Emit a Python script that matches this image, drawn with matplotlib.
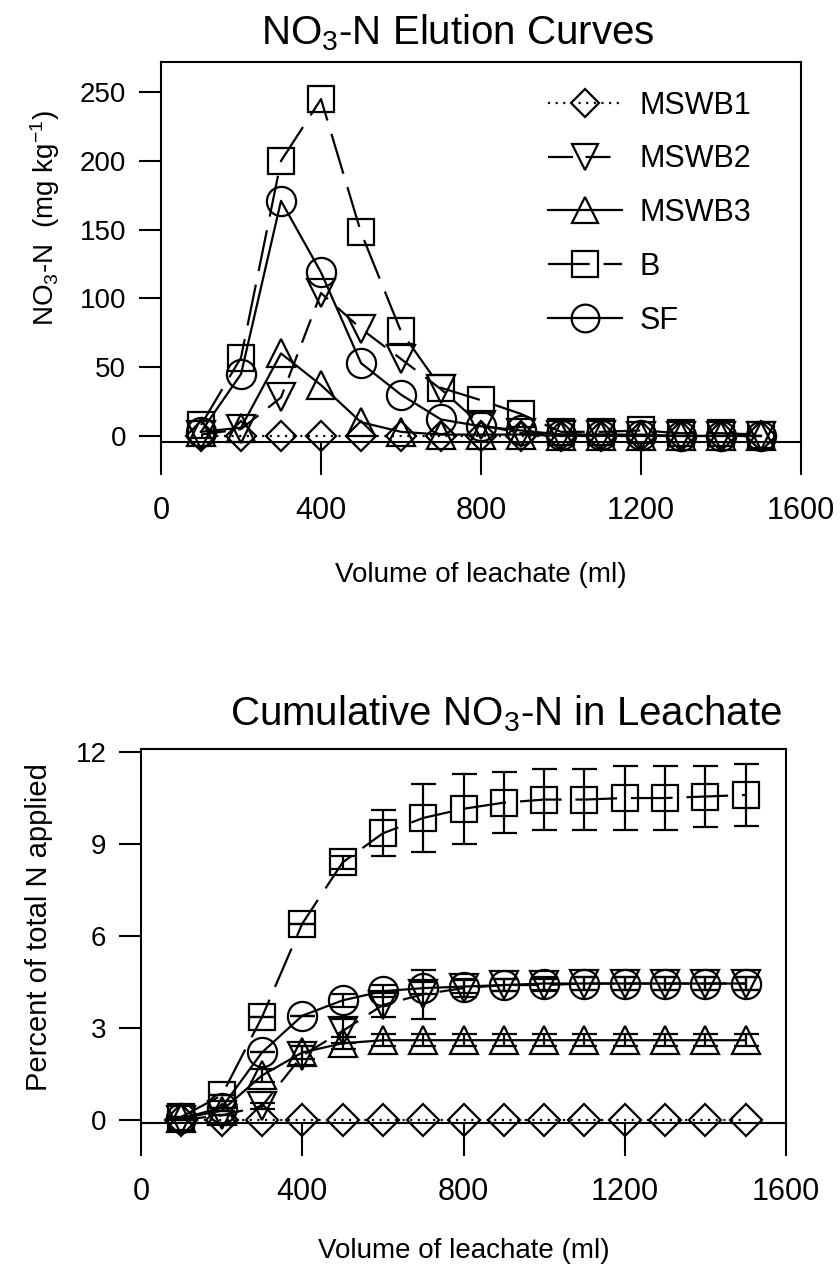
import numpy as np
import matplotlib
matplotlib.use("Agg")
import matplotlib.pyplot as plt

plt.rcParams['font.family'] = ['Liberation Sans', 'DejaVu Sans']
plt.rcParams['mathtext.default'] = 'regular'
plt.rcParams['lines.scale_dashes'] = False

# leachate volume (ml)
volume = [100, 200, 300, 400, 500, 600, 700, 800, 900, 1000, 1100, 1200, 1300, 1400, 1500]

# NO3-N elution (mg/kg)
conc_mswb1 = [0, 0, 0, 0, 0, 0, 0, 0, 0, 0, 0, 0, 0, 0, 0]
conc_mswb2 = [1, 5, 28, 104, 78, 56, 34, 8, 2, 1, 1, 0, 0, 0, 0]
conc_mswb3 = [3, 6, 60, 37, 10, 3, 1, 1, 1, 0, 0, 0, 0, 0, 0]
conc_b = [8, 57, 200, 245, 148, 76, 35, 26, 16, 3, 3, 4, 2, 2, 1]
conc_sf = [3, 45, 171, 119, 53, 30, 12, 7, 4, 1, 1, 1, 0, 0, 0]

# cumulative NO3-N (% of total N applied)
cum_mswb1 = [0, 0, 0, 0, 0, 0, 0, 0, 0, 0, 0, 0, 0, 0, 0]
cum_mswb2 = [0.0, 0.15, 0.45, 2.1, 2.9, 3.75, 4.1, 4.3, 4.4, 4.4, 4.45, 4.45, 4.45, 4.45, 4.45]
cum_mswb3 = [0.05, 0.3, 1.45, 2.2, 2.5, 2.6, 2.6, 2.6, 2.6, 2.6, 2.6, 2.6, 2.6, 2.6, 2.6]
cum_b = [0.1, 0.8, 3.35, 6.4, 8.4, 9.35, 9.85, 10.15, 10.35, 10.45, 10.45, 10.5, 10.5, 10.55, 10.6]
cum_sf = [0.05, 0.4, 2.2, 3.4, 3.9, 4.2, 4.3, 4.35, 4.4, 4.45, 4.45, 4.45, 4.45, 4.45, 4.45]

err_mswb2 = [0, 0, 0.1, 0.3, 0.4, 0.4, 0.8, 0.3, 0.2, 0.2, 0.2, 0.2, 0.2, 0.2, 0.2]
err_mswb3 = [0, 0, 0.2, 0.2, 0.2, 0.2, 0.2, 0.2, 0.2, 0.2, 0.2, 0.2, 0.2, 0.2, 0.2]
err_b = [0, 0, 0, 0, 0.2, 0.75, 1.1, 1.15, 1.0, 1.0, 1.0, 1.05, 1.05, 1.0, 1.0]
err_sf = [0, 0, 0, 0, 0.2, 0.2, 0.2, 0.2, 0.2, 0.2, 0.2, 0.2, 0.2, 0.2, 0.2]

labels = ['MSWB1', 'MSWB2', 'MSWB3', 'B', 'SF']
markers = ['D', 'v', '^', 's', 'o']
styles = [(0, (1.5, 4)), (0, (18, 9)), '-', (0, (30, 10)), '-']
top_sizes = [15, 20, 20, 19, 21]
bot_sizes = [16, 20, 20, 19, 21]

fig = plt.figure(figsize=(8.4, 12.68), dpi=100)
W, H = 840.0, 1268.0


def style_axes(ax):
    for side in ['top', 'right', 'left', 'bottom']:
        ax.spines[side].set_linewidth(1.5)
    ax.tick_params(axis='y', direction='out', length=16, width=1.5, pad=9, labelsize=20)
    ax.tick_params(axis='x', direction='out', length=24, width=1.5, pad=15, labelsize=22)


# ---- top: elution curves
ax1 = fig.add_axes([161 / W, 1 - 442 / H, 640 / W, 380 / H])
top_series = [conc_mswb1, conc_mswb2, conc_mswb3, conc_b, conc_sf]
for vals, lab, m, ls, ms in zip(top_series, labels, markers, styles, top_sizes):
    ax1.plot(volume, vals, linestyle=ls, color='black', lw=1.6, marker=m, ms=ms,
             mfc='none', mec='black', mew=1.6, label=lab, clip_on=False)
ax1.set_xlim(0, 1600)
ax1.set_ylim(-4.4, 272)
ax1.set_xticks([0, 400, 800, 1200, 1600])
ax1.set_yticks([0, 50, 100, 150, 200, 250])
style_axes(ax1)
ax1.set_xlabel('Volume of leachate (ml)', fontsize=20, labelpad=26)
ax1.set_ylabel('NO$_3$-N  (mg kg$^{-1}$)', fontsize=20)
ax1.yaxis.set_label_coords(-0.155, 0.59)
ax1.legend(loc='upper left', bbox_to_anchor=(0.605, 0.925), frameon=False, fontsize=22,
           handlelength=2.4, handletextpad=0.6, labelspacing=0.78, borderpad=0,
           borderaxespad=0, markerscale=0.95)
fig.text(458 / W, 1 - 44 / H, 'NO$_3$-N Elution Curves', fontsize=29,
         ha='center', va='baseline')

# ---- bottom: cumulative
ax2 = fig.add_axes([141 / W, 1 - 1123 / H, 645 / W, 374 / H])
bot_series = [cum_mswb1, cum_mswb2, cum_mswb3, cum_b, cum_sf]
bot_errs = [None, err_mswb2, err_mswb3, err_b, err_sf]
for vals, err, lab, m, ls, ms in zip(bot_series, bot_errs, labels, markers, styles, bot_sizes):
    ax2.errorbar(volume, vals, yerr=err, linestyle=ls, color='black', lw=1.6,
                 marker=m, ms=ms, mfc='none', mec='black', mew=1.6,
                 ecolor='black', elinewidth=1.6, capsize=9, capthick=1.6,
                 label=lab, clip_on=False)
ax2.set_xlim(0, 1600)
ax2.set_ylim(-0.1, 12.1)
ax2.set_xticks([0, 400, 800, 1200, 1600])
ax2.set_yticks([0, 3, 6, 9, 12])
style_axes(ax2)
ax2.set_xlabel('Volume of leachate (ml)', fontsize=20, labelpad=22)
ax2.set_ylabel('Percent of total N applied', fontsize=21)
ax2.yaxis.set_label_coords(-0.136, 0.524)
fig.text(506 / W, 1 - 725 / H, 'Cumulative NO$_3$-N in Leachate', fontsize=29,
         ha='center', va='baseline')

fig.savefig('out.png', dpi=100)
